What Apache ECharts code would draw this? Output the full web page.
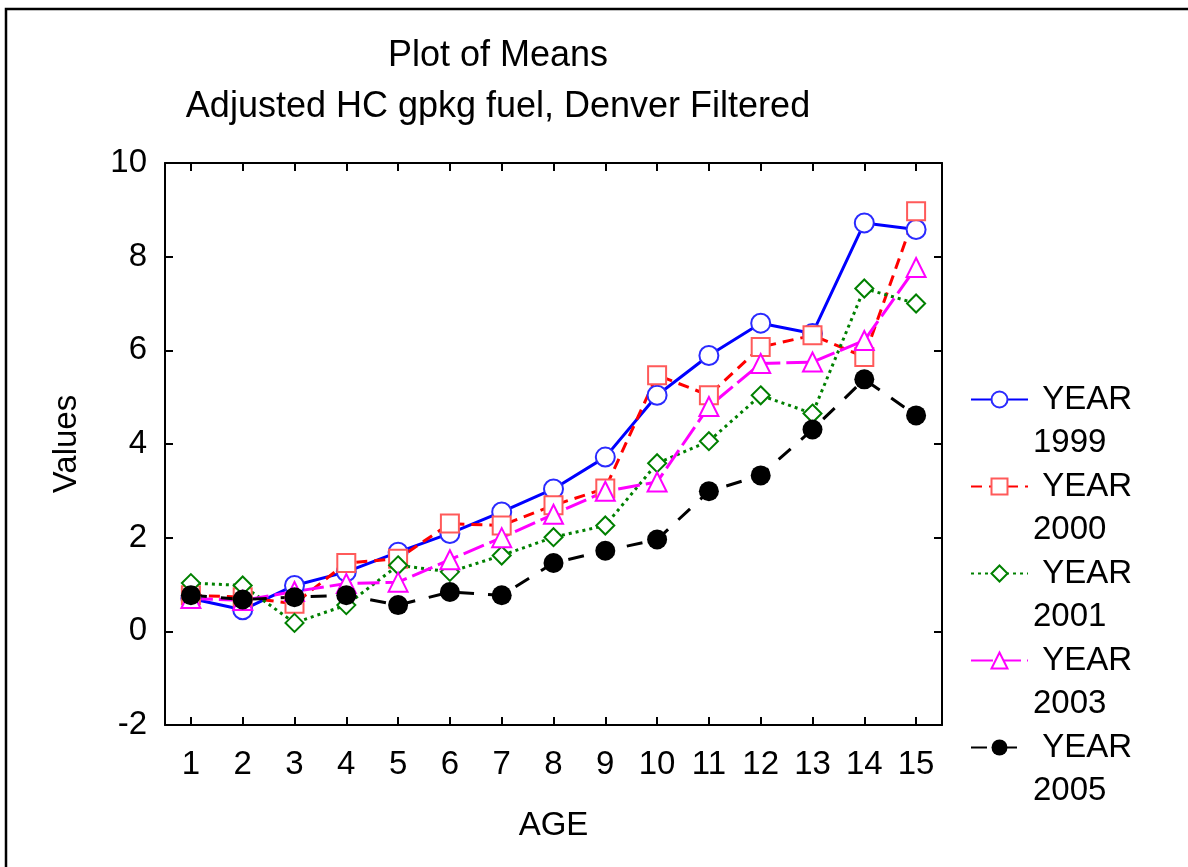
<!DOCTYPE html>
<html lang="en">
<head>
    <meta charset="UTF-8">
    <title>Plot of Means</title>
    <style>
        html, body { margin: 0; padding: 0; background: #fff; }
        #main { width: 1188px; height: 867px; }
    </style>
</head>
<body>
    <div id="main"></div>
    <script src="https://cdn.jsdelivr.net/npm/echarts@6/dist/echarts.min.js"></script>
    <script>
        // data
        var ages = ['1', '2', '3', '4', '5', '6', '7', '8', '9', '10', '11', '12', '13', '14', '15'];
        var years = ['1999', '2000', '2001', '2003', '2005'];
        var y1999 = [0.70, 0.46, 0.98, 1.27, 1.69, 2.09, 2.55, 3.04, 3.72, 5.04, 5.89, 6.58, 6.36, 8.72, 8.58];
        var y2000 = [0.77, 0.73, 0.59, 1.46, 1.55, 2.30, 2.26, 2.69, 3.05, 5.47, 5.04, 6.07, 6.32, 5.86, 8.97];
        var y2001 = [1.03, 0.98, 0.18, 0.56, 1.41, 1.27, 1.62, 2.01, 2.26, 3.59, 4.06, 5.04, 4.65, 7.32, 7.00];
        var y2003 = [0.70, 0.66, 0.85, 1.02, 1.05, 1.53, 2.00, 2.50, 2.99, 3.19, 4.80, 5.72, 5.75, 6.21, 7.77];
        var y2005 = [0.77, 0.68, 0.73, 0.77, 0.56, 0.84, 0.77, 1.46, 1.72, 1.96, 2.99, 3.33, 4.31, 5.38, 4.61];
        var yTicks = { min: -2, max: 10, step: 2 };

        var font = 'Arial, "Liberation Sans", Helvetica, sans-serif';
        var chart = echarts.init(document.getElementById('main'));

        // one entry per series: line colour, dash, marker
        var styles = [
            { data: y1999, line: '#0000ff', dash: 'solid', symbol: 'emptyCircle', size: 19, mark: '#2a2aff', bw: 1.2 },
            { data: y2000, line: '#ff0000', dash: [11, 7], symbol: 'emptyRect', size: 18, mark: '#ff5a5a', bw: 1.6 },
            { data: y2001, line: '#008000', dash: [3, 4], symbol: 'emptyDiamond', size: 18, mark: '#008000', bw: 1.2 },
            { data: y2003, line: '#ff00ff', dash: [22, 6], symbol: 'emptyTriangle', size: 19, mark: '#ff00ff', bw: 2 },
            { data: y2005, line: '#000000', dash: [16, 14], symbol: 'circle', size: 20, mark: '#000000', bw: 0 }
        ];

        var series = styles.map(function (s, i) {
            return {
                name: years[i],
                type: 'line',
                data: s.data,
                symbol: s.symbol,
                symbolSize: s.size,
                showAllSymbol: true,
                lineStyle: { color: s.line, width: 3, type: s.dash },
                itemStyle: { color: s.mark, borderColor: s.mark, borderWidth: s.bw },
                emphasis: { disabled: true },
                animation: false
            };
        });

        var axisLine = { show: true, onZero: false, lineStyle: { color: '#000', width: 2 } };
        var tick = { show: true, inside: true, length: 8, lineStyle: { color: '#000', width: 2 } };

        var option = {
            backgroundColor: '#fff',
            animation: false,
            textStyle: { fontFamily: font },
            grid: { left: 165, top: 163, right: 246, bottom: 142 },
            legend: {
                orient: 'vertical',
                left: 970,
                top: 335,
                padding: 0,
                itemWidth: 57,
                itemHeight: 20,
                itemGap: -42,
                selectedMode: false,
                data: years,
                // empty first line so the icon sits level with "YEAR"
                formatter: function (name) { return '\n YEAR\n' + name; },
                textStyle: { fontFamily: font, fontSize: 33, color: '#000', lineHeight: 43 }
            },
            xAxis: [{
                type: 'category',
                data: ages,
                boundaryGap: true,
                position: 'bottom',
                name: 'AGE',
                nameLocation: 'middle',
                nameGap: 84,
                nameTextStyle: { fontFamily: font, fontSize: 33, color: '#000' },
                axisLine: axisLine,
                axisTick: { show: true, inside: true, length: 8, alignWithLabel: true, lineStyle: { color: '#000', width: 2 } },
                axisLabel: { fontFamily: font, fontSize: 33, color: '#000', margin: 23, interval: 0 },
                splitLine: { show: false }
            }, {
                type: 'category',
                data: ages,
                boundaryGap: true,
                position: 'top',
                axisLine: axisLine,
                axisTick: { show: true, inside: true, length: 8, alignWithLabel: true, lineStyle: { color: '#000', width: 2 } },
                axisLabel: { show: false },
                splitLine: { show: false }
            }],
            yAxis: [{
                type: 'value',
                min: yTicks.min,
                max: yTicks.max,
                interval: yTicks.step,
                position: 'left',
                name: 'Values',
                nameLocation: 'middle',
                nameGap: 82,
                nameTextStyle: { fontFamily: font, fontSize: 33, color: '#000' },
                axisLine: axisLine,
                axisTick: tick,
                axisLabel: { fontFamily: font, fontSize: 33, color: '#000', margin: 18 },
                splitLine: { show: false }
            }, {
                type: 'value',
                min: yTicks.min,
                max: yTicks.max,
                interval: yTicks.step,
                position: 'right',
                axisLine: axisLine,
                axisTick: tick,
                axisLabel: { show: false },
                splitLine: { show: false }
            }],
            graphic: [{
                type: 'rect',
                shape: { x: 6, y: 9, width: 1400, height: 1000 },
                style: { fill: 'none', stroke: '#000', lineWidth: 2.5 },
                silent: true
            }, {
                type: 'text',
                x: 498,
                y: 56,
                style: { text: 'Plot of Means', font: '36px ' + font, fill: '#000', align: 'center', verticalAlign: 'middle' }
            }, {
                type: 'text',
                x: 498,
                y: 107,
                style: { text: 'Adjusted HC gpkg fuel, Denver Filtered', font: '36px ' + font, fill: '#000', align: 'center', verticalAlign: 'middle' }
            }],
            series: series
        };

        chart.setOption(option);
    </script>
</body>
</html>
